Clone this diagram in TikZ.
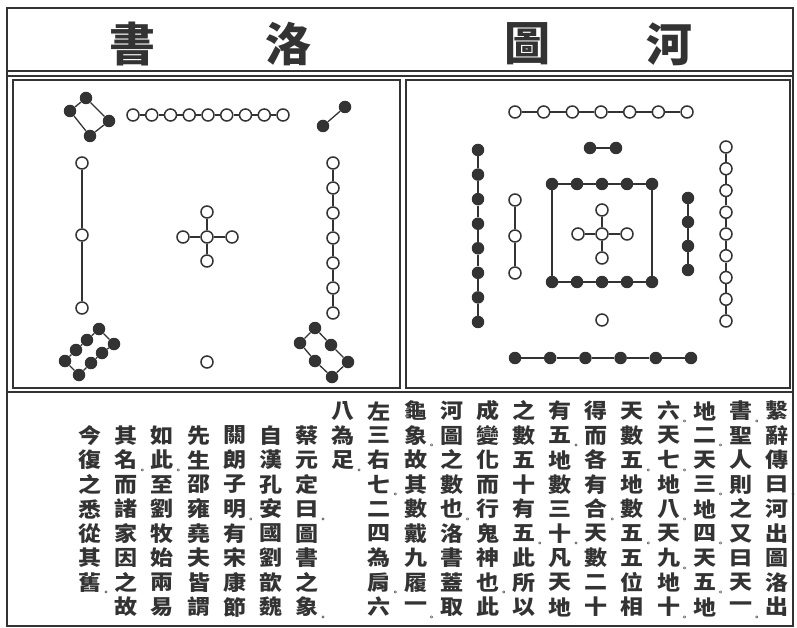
\documentclass[tikz,border=0pt]{standalone}
\usepackage{fontspec}
\usepackage{graphicx}
\newfontfamily\cjk{Noto Sans CJK TC}
\definecolor{ink}{gray}{0.2}
\tikzset{
  wc/.style={circle,draw=ink,line width=1.5pt,fill=white,minimum size=12pt,inner sep=0pt},
  bd/.style={circle,fill=ink,minimum size=12.5pt,inner sep=0pt},
  lk/.style={draw=ink,line width=1.3pt},
  frame/.style={draw=ink,line width=1.3pt},
  zch/.style={inner sep=0pt,text=ink,font=\cjk\bfseries\fontsize{23}{23}\selectfont},
  zpt/.style={inner sep=0pt,text=ink,font=\cjk\bfseries\fontsize{8}{8}\selectfont},
  ttl/.style={inner sep=0pt,text=ink,font=\cjk\bfseries\fontsize{46}{46}\selectfont}
}
\newcommand\zcol[3]{%
  \foreach \ch [count=\k from #2] in {#3} {
    \node[zch] (t#1-\k) at ({777-36.15*(#1-1)},{411+24.5*(\k-1)}) {\scalebox{1}[0.9]{\ch}};
  }}
\newcommand\zpun[2]{%
  \foreach \p in {#2} {
    \node[zpt] (p#1-\p) at ({777-36.15*(#1-1)+16},{411+24.5*(\p-1)+11}) {。};
  }}
\newcommand\zchain[2]{\foreach \i [remember=\i as \j (initially 1)] in {2,...,#2} {\draw[lk] (#1-\j)--(#1-\i);}}
\begin{document}
\begin{tikzpicture}[x=1pt,y=-1pt]
\useasboundingbox (0,0) rectangle (797,628);
\fill[white] (0,0) rectangle (797,628);
% frames
\draw[frame] (7,8) rectangle (793,626);
\draw[frame] (7,71) -- (793,71);
\draw[frame] (7,76) -- (793,76);
\draw[frame] (13,80) rectangle (400,388);
\draw[frame] (406,80) rectangle (790,388);
\draw[frame] (7,392) -- (793,392);
% title
\node[ttl] (h1) at (132,44) {書};
\node[ttl] (h2) at (288,44) {洛};
\node[ttl] (h3) at (527,44) {圖};
\node[ttl] (h4) at (669,44) {河};
% ===== Luoshu =====
% 4
\node[bd] (L4-1) at (86,98) {};
\node[bd] (L4-2) at (70,111) {};
\node[bd] (L4-3) at (90,136) {};
\node[bd] (L4-4) at (109,121) {};
\draw[lk] (L4-1)--(L4-2)--(L4-3)--(L4-4)--(L4-1);
% 9
\foreach \i in {1,...,9} \node[wc] (L9-\i) at ({133+18.75*(\i-1)},115) {};
\zchain{L9}{9}
% 2
\node[bd] (L2-1) at (345,107) {};
\node[bd] (L2-2) at (323,126) {};
\draw[lk] (L2-1)--(L2-2);
% 3
\foreach \i/\y in {1/163,2/235,3/308} \node[wc] (L3-\i) at (82,\y) {};
\zchain{L3}{3}
% 5
\node[wc] (L5-c) at (207,237) {};
\node[wc] (L5-n) at (207,212) {};
\node[wc] (L5-s) at (207,261) {};
\node[wc] (L5-w) at (183,237) {};
\node[wc] (L5-e) at (232,237) {};
\foreach \d in {n,s,w,e} \draw[lk] (L5-c)--(L5-\d);
% 7
\foreach \i in {1,...,7} \node[wc] (L7-\i) at (333,{163+25*(\i-1)}) {};
\zchain{L7}{7}
% 8
\node[bd] (L8-1) at (99,329) {};
\node[bd] (L8-2) at (87,340) {};
\node[bd] (L8-3) at (76,350) {};
\node[bd] (L8-4) at (65,361) {};
\node[bd] (L8-5) at (79,375) {};
\node[bd] (L8-6) at (91,363) {};
\node[bd] (L8-7) at (102,353) {};
\node[bd] (L8-8) at (114,344) {};
\zchain{L8}{8}
\draw[lk] (L8-8)--(L8-1);
% 1
\node[wc] (L1-1) at (207,362) {};
% 6
\node[bd] (L6-1) at (315,328) {};
\node[bd] (L6-2) at (331,345) {};
\node[bd] (L6-3) at (348,362) {};
\node[bd] (L6-4) at (332,377) {};
\node[bd] (L6-5) at (315,361) {};
\node[bd] (L6-6) at (300,343) {};
\zchain{L6}{6}
\draw[lk] (L6-6)--(L6-1);
% ===== Hetu =====
% 7 top
\foreach \i in {1,...,7} \node[wc] (H7-\i) at ({515+28.67*(\i-1)},112) {};
\zchain{H7}{7}
% 2
\node[bd] (H2-1) at (590,148) {};
\node[bd] (H2-2) at (616,148) {};
\draw[lk] (H2-1)--(H2-2);
% 8 left outer
\foreach \i in {1,...,8} \node[bd] (H8-\i) at (478,{150+24.57*(\i-1)}) {};
\zchain{H8}{8}
% 3 left inner
\foreach \i/\y in {1/200,2/236,3/273} \node[wc] (H3-\i) at (515,\y) {};
\zchain{H3}{3}
% 10 square
\foreach \i in {1,...,5} \node[bd] (H10-\i) at ({552+25*(\i-1)},184) {};
\foreach \i in {6,...,10} \node[bd] (H10-\i) at ({652-25*(\i-6)},282) {};
\zchain{H10}{10}
\draw[lk] (H10-10)--(H10-1);
% 5 centre
\node[wc] (H5-c) at (602,234) {};
\node[wc] (H5-n) at (602,210) {};
\node[wc] (H5-s) at (602,258) {};
\node[wc] (H5-w) at (578,234) {};
\node[wc] (H5-e) at (627,234) {};
\foreach \d in {n,s,w,e} \draw[lk] (H5-c)--(H5-\d);
% 4 right inner
\foreach \i in {1,...,4} \node[bd] (H4-\i) at (688,{198+24*(\i-1)}) {};
\zchain{H4}{4}
% 9 right outer
\foreach \i in {1,...,9} \node[wc] (H9-\i) at (726,{147+21.75*(\i-1)}) {};
\zchain{H9}{9}
% 1
\node[wc] (H1-1) at (602,320) {};
% 6 bottom
\foreach \i in {1,...,6} \node[bd] (H6-\i) at ({515+35.2*(\i-1)},358) {};
\zchain{H6}{6}
% ===== text =====
\zcol{1}{1}{繫,辭,傳,曰,河,出,圖,洛,出}
\zpun{1}{4}
\zcol{2}{1}{書,聖,人,則,之,又,曰,天,一}
\zpun{2}{1,9}
\zcol{3}{1}{地,二,天,三,地,四,天,五,地}
\zpun{3}{2,4,6,8}
\zcol{4}{1}{六,天,七,地,八,天,九,地,十}
\zpun{4}{1,3,5,7,9}
\zcol{5}{1}{天,數,五,地,數,五,五,位,相}
\zpun{5}{3,6}
\zcol{6}{1}{得,而,各,有,合,天,數,二,十}
\zpun{6}{5}
\zcol{7}{1}{有,五,地,數,三,十,凡,天,地}
\zpun{7}{2,6}
\zcol{8}{1}{之,數,五,十,有,五,此,所,以}
\zpun{8}{6}
\zcol{9}{1}{成,變,化,而,行,鬼,神,也,此}
\zpun{9}{8}
\zcol{10}{1}{河,圖,之,數,也,洛,書,蓋,取}
\zpun{10}{5}
\zcol{11}{1}{龜,象,故,其,數,戴,九,履,一}
\zpun{11}{2,9}
\zcol{12}{1}{左,三,右,七,二,四,為,肩,六}
\zpun{12}{4,8}
\zcol{13}{1}{八,為,足}
\zpun{13}{3}
\zcol{14}{2}{蔡,元,定,曰,圖,書,之,象}
\zpun{14}{5,9}
\zcol{15}{2}{自,漢,孔,安,國,劉,歆,魏}
\zcol{16}{2}{關,朗,子,明,有,宋,康,節}
\zpun{16}{5}
\zcol{17}{2}{先,生,邵,雍,堯,夫,皆,謂}
\zcol{18}{2}{如,此,至,劉,牧,始,兩,易}
\zpun{18}{3}
\zcol{19}{2}{其,名,而,諸,家,因,之,故}
\zpun{19}{3}
\zcol{20}{2}{今,復,之,悉,從,其,舊}
\zpun{20}{8}
\end{tikzpicture}
\end{document}
